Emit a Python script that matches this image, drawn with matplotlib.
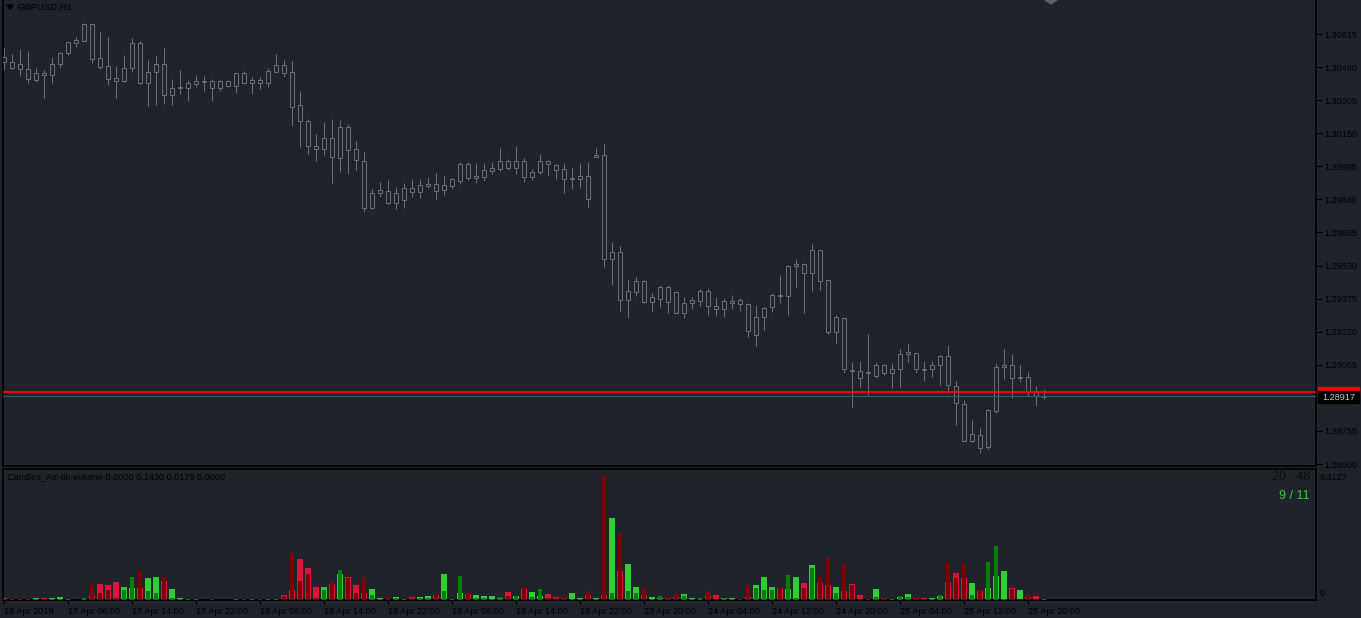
import matplotlib
matplotlib.use("Agg")
import matplotlib.pyplot as plt
from matplotlib.patches import Rectangle, Polygon
import numpy as np

# ---------------- data ----------------
opens = [1.30507,1.30484,1.30474,1.30451,1.30399,1.30432,1.30423,1.30474,1.30526,1.30573,
         1.30582,1.30662,1.30503,1.30465,1.30409,1.30395,1.30456,1.30573,1.30385,1.30437,
         1.30474,1.30329,1.30362,1.30362,1.30381,1.30395,1.30395,1.30362,1.30395,1.30371,
         1.30432,1.30385,1.30399,1.30385,1.30437,1.30470,1.30437,1.30282,1.30207,1.30090,
         1.30076,1.30128,1.30034,1.30179,1.30076,1.30020,1.29800,1.29870,1.29879,1.29823,
         1.29837,1.29893,1.29875,1.29903,1.29912,1.29884,1.29903,1.29926,1.30006,1.29940,
         1.29945,1.29973,1.29982,1.30020,1.29987,1.30020,1.29945,1.29968,1.30020,1.30001,
         1.29982,1.29936,1.29936,1.29950,1.30039,1.30048,1.29561,1.29594,1.29369,1.29406,
         1.29458,1.29359,1.29373,1.29430,1.29406,1.29308,1.29355,1.29364,1.29411,1.29341,
         1.29326,1.29355,1.29369,1.29350,1.29205,1.29289,1.29336,1.29392,1.29387,1.29528,
         1.29537,1.29495,1.29603,1.29462,1.29219,1.29284,1.29041,1.29036,1.29031,1.29013,
         1.29064,1.29027,1.29045,1.29116,1.29120,1.29045,1.29045,1.29064,1.29106,1.28966,
         1.28881,1.28708,1.28736,1.28680,1.28848,1.29055,1.29064,1.29003,1.29008,1.28942,
         1.28912]
highs = [1.30549,1.30521,1.30545,1.30535,1.30456,1.30446,1.30507,1.30531,1.30578,1.30601,
         1.30667,1.30662,1.30624,1.30601,1.30465,1.30517,1.30596,1.30582,1.30493,1.30512,
         1.30549,1.30404,1.30446,1.30399,1.30423,1.30418,1.30404,1.30399,1.30395,1.30432,
         1.30442,1.30414,1.30414,1.30456,1.30521,1.30493,1.30488,1.30348,1.30217,1.30146,
         1.30203,1.30217,1.30212,1.30193,1.30114,1.30062,1.29889,1.29922,1.29931,1.29898,
         1.29917,1.29936,1.29936,1.29945,1.29964,1.29950,1.29940,1.30015,1.30015,1.30011,
         1.30011,1.30015,1.30081,1.30029,1.30090,1.30034,1.29982,1.30053,1.30025,1.30006,
         1.30011,1.29987,1.30011,1.30015,1.30081,1.30100,1.29640,1.29622,1.29462,1.29476,
         1.29462,1.29401,1.29439,1.29439,1.29406,1.29383,1.29383,1.29420,1.29425,1.29383,
         1.29378,1.29392,1.29378,1.29355,1.29345,1.29336,1.29401,1.29486,1.29533,1.29561,
         1.29542,1.29631,1.29603,1.29462,1.29298,1.29284,1.29078,1.29083,1.29209,1.29078,
         1.29069,1.29073,1.29139,1.29162,1.29120,1.29083,1.29083,1.29111,1.29158,1.28989,
         1.28900,1.28806,1.28769,1.28858,1.29073,1.29139,1.29116,1.29064,1.29031,1.28966,
         1.28952]
lows  = [1.30446,1.30451,1.30418,1.30385,1.30390,1.30315,1.30385,1.30456,1.30517,1.30554,
         1.30582,1.30479,1.30451,1.30376,1.30315,1.30390,1.30437,1.30381,1.30278,1.30282,
         1.30287,1.30282,1.30334,1.30301,1.30367,1.30348,1.30301,1.30348,1.30367,1.30339,
         1.30385,1.30334,1.30357,1.30367,1.30437,1.30414,1.30184,1.30086,1.30053,1.30020,
         1.30048,1.29917,1.29968,1.29959,1.29978,1.29781,1.29795,1.29851,1.29818,1.29795,
         1.29800,1.29851,1.29847,1.29893,1.29842,1.29861,1.29889,1.29912,1.29931,1.29917,
         1.29926,1.29959,1.29973,1.29978,1.29959,1.29922,1.29931,1.29959,1.29954,1.29936,
         1.29870,1.29889,1.29893,1.29804,1.30039,1.29523,1.29439,1.29317,1.29284,1.29387,
         1.29355,1.29317,1.29336,1.29308,1.29317,1.29284,1.29326,1.29341,1.29298,1.29294,
         1.29289,1.29326,1.29317,1.29195,1.29153,1.29228,1.29312,1.29355,1.29298,1.29430,
         1.29308,1.29411,1.29415,1.29209,1.29167,1.29027,1.28867,1.28961,1.28924,1.29003,
         1.29017,1.28956,1.28961,1.29078,1.29027,1.28989,1.29008,1.28970,1.28933,1.28783,
         1.28708,1.28703,1.28652,1.28670,1.28839,1.28998,1.28909,1.28984,1.28919,1.28872,
         1.28905]
closes = [1.30484,1.30456,1.30451,1.30404,1.30432,1.30423,1.30474,1.30526,1.30578,1.30587,
          1.30662,1.30498,1.30460,1.30404,1.30395,1.30456,1.30573,1.30385,1.30437,1.30474,
          1.30329,1.30362,1.30367,1.30385,1.30395,1.30390,1.30362,1.30395,1.30371,1.30432,
          1.30385,1.30399,1.30385,1.30442,1.30470,1.30432,1.30273,1.30207,1.30090,1.30076,
          1.30128,1.30039,1.30179,1.30071,1.30025,1.29800,1.29870,1.29884,1.29823,1.29870,
          1.29893,1.29875,1.29908,1.29912,1.29879,1.29908,1.29936,1.30006,1.29940,1.29950,
          1.29978,1.29987,1.30020,1.29987,1.30020,1.29945,1.29968,1.30020,1.30006,1.29978,
          1.29936,1.29940,1.29950,1.29842,1.30048,1.29561,1.29594,1.29369,1.29411,1.29458,
          1.29359,1.29383,1.29430,1.29359,1.29308,1.29355,1.29369,1.29411,1.29341,1.29326,
          1.29364,1.29364,1.29350,1.29223,1.29289,1.29331,1.29392,1.29387,1.29528,1.29537,
          1.29495,1.29603,1.29458,1.29219,1.29289,1.29045,1.29036,1.29003,1.29027,1.29064,
          1.29027,1.29045,1.29116,1.29125,1.29045,1.29041,1.29064,1.29106,1.28970,1.28886,
          1.28708,1.28741,1.28675,1.28853,1.29055,1.29064,1.29003,1.29008,1.28942,1.28919,
          1.28917]

# volume indicator: wide bright bar and narrow dark bar per candle
vol_wide = [0.16,0.09,0.09,0.09,0.12,0.12,0.12,0.19,0.07,0.02,
            0.05,0.31,1.17,1.10,1.31,0.95,0.88,0.88,1.53,1.60,
            1.38,0.81,0.16,0.09,0.09,0.02,0.09,0.02,0.02,0.09,
            0.09,0.09,0.09,0.07,0.09,0.38,0.74,2.89,2.24,0.95,
            0.95,1.17,1.88,1.67,1.10,0.52,0.81,0.16,0.09,0.24,
            0.09,0.24,0.24,0.31,0.38,1.88,0.09,0.52,0.45,0.38,
            0.31,0.31,0.16,0.59,0.31,0.81,0.59,0.31,0.45,0.24,
            0.16,0.52,0.16,0.38,0.16,0.38,5.82,2.03,2.53,0.95,
            0.38,0.24,0.16,0.16,0.24,0.45,0.16,0.09,0.31,0.38,
            0.16,0.16,0.09,0.24,1.10,1.67,0.95,0.88,0.81,1.67,
            1.24,2.46,1.24,1.10,0.95,0.67,1.17,0.38,0.09,0.81,
            0.16,0.09,0.24,0.45,0.16,0.16,0.16,0.31,1.31,1.95,
            1.53,1.24,0.67,0.88,1.74,2.03,0.88,0.74,0.24,0.31,
            0.09]
vol_narrow = [0.07,0.05,0.05,0.05,0.07,0.07,0.07,0.09,0.05,0.02,
              0.16,1.15,0.52,0.69,0.16,0.74,1.60,2.10,0.67,0.52,
              1.67,0.16,0.05,0.05,0.05,0.02,0.05,0.02,0.02,0.05,
              0.05,0.05,0.05,0.05,0.05,0.31,3.32,1.38,1.88,0.16,
              0.74,1.31,2.10,1.53,0.52,1.67,0.38,0.07,0.24,0.16,
              0.05,0.12,0.16,0.12,0.38,0.67,0.05,1.74,0.52,0.12,
              0.16,0.09,0.24,0.31,0.31,0.95,0.24,0.81,0.16,0.16,
              0.31,0.09,0.07,0.67,0.07,8.83,0.52,4.68,0.67,0.52,
              0.88,0.09,0.31,0.24,0.45,0.31,0.07,0.16,0.67,0.09,
              0.16,0.07,0.05,1.10,0.88,0.74,0.74,0.88,1.81,0.16,
              0.88,2.31,1.67,2.96,0.52,2.53,1.10,0.09,0.05,0.24,
              0.16,0.05,0.31,0.20,0.31,0.10,0.09,0.38,2.67,1.53,
              2.60,0.38,0.81,2.67,3.82,0.09,0.81,0.02,0.45,0.09,
              0.05]

price_ticks = [1.28600,1.28755,1.29065,1.29220,1.29375,1.29530,1.29685,
               1.29840,1.29995,1.30150,1.30305,1.30460,1.30615]
time_tick_pos = [0,8,16,24,32,40,48,56,64,72,80,88,96,104,112,120,128]
time_tick_labels = ["16 Apr 2019","17 Apr 06:00","17 Apr 14:00","17 Apr 22:00",
                    "18 Apr 06:00","18 Apr 14:00","18 Apr 22:00","19 Apr 06:00",
                    "19 Apr 14:00","19 Apr 22:00","23 Apr 20:00","24 Apr 04:00",
                    "24 Apr 12:00","24 Apr 20:00","25 Apr 04:00","25 Apr 12:00",
                    "25 Apr 20:00"]
bid_price = 1.28917
line_price = 1.28937
vol_max = 9.3127

# ---------------- style ----------------
BG = "#1f242c"
CANDLE = "#6c6c6c"
FONT = "Liberation Sans"
W, H = 1361, 618
fig = plt.figure(figsize=(W/100, H/100), dpi=100)
fig.patch.set_facecolor(BG)

def fx(px): return px / W
def fy(py): return 1 - py / H

x_left, x_right = 3, 1316
ax = fig.add_axes([fx(x_left), fy(466), fx(x_right - x_left), fy(0) - fy(466)])
axv = fig.add_axes([fx(x_left), fy(600), fx(x_right - x_left), fy(469) - fy(600)])

n = len(opens)
xlim = (-0.125, -0.125 + (x_right - x_left) / 8.0)
px_per_y = 0.00004686
ylim = (1.30615 - (466 - 34) * px_per_y, 1.30615 + (34 - 0) * px_per_y)

for a in (ax, axv):
    a.set_facecolor(BG)
    a.set_xlim(*xlim)
    for s in a.spines.values():
        s.set_color("black")
        s.set_linewidth(1.2)
ax.spines["top"].set_visible(False)

ax.set_ylim(*ylim)
lw = 0.75
for i in range(n):
    ax.vlines(i, lows[i], highs[i], color=CANDLE, lw=lw, zorder=2)
    lo, hi = min(opens[i], closes[i]), max(opens[i], closes[i])
    hgt = max(hi - lo, 0.000001)
    ax.add_patch(Rectangle((i - 0.27, lo), 0.54, hgt, facecolor=BG,
                           edgecolor=CANDLE, lw=lw, zorder=3))

ax.axhline(line_price, color="#ff0000", lw=1.3, zorder=4)
ax.axhline(bid_price, color="#4a5058", lw=0.9, zorder=4)

ax.set_xticks([])
ax.yaxis.tick_right()
ax.set_yticks(price_ticks)
ax.set_yticklabels([f"{p:.5f}" for p in price_ticks], fontsize=6.6,
                   family=FONT, color="black")
ax.tick_params(axis="y", length=4, width=0.8, color="black", pad=2)

# volume panel
axv.set_ylim(0, vol_max)
xs = np.arange(n)
wide_col = ["#32cd32" if c >= o else "#dc143c" for o, c in zip(opens, closes)]
dark_col = ["#008000" if c >= o else "#800000" for o, c in zip(opens, closes)]
axv.bar(xs, vol_wide, width=0.82, color=wide_col, zorder=2)
axv.bar(xs, vol_narrow, width=0.38, color=dark_col, zorder=3)
axv.set_yticks([])
axv.set_xticks(time_tick_pos)
axv.set_xticklabels(time_tick_labels, fontsize=6.6, family=FONT,
                    color="black", ha="left")
axv.tick_params(axis="x", length=3, width=0.8, color="black", pad=2)

# labels / texts
fig.text(fx(18), fy(7), "GBPUSD,H1", fontsize=6.8, family=FONT, color="black",
         va="center", ha="left")
fig.patches.append(Polygon([[fx(7), fy(5)], [fx(13), fy(5)], [fx(10), fy(9)]],
                           closed=True, color="black", transform=fig.transFigure))
fig.text(fx(7), fy(477), "Candles_Atr-tik-volume 0.0000 0.1430 0.0179 0.0000",
         fontsize=6.6, family=FONT, color="black", va="center", ha="left")
fig.text(fx(1310), fy(477), "20 : 48", fontsize=9, family=FONT, color="#0d0d0d",
         va="center", ha="right")
fig.text(fx(1310), fy(496), "9 / 11", fontsize=9, family=FONT, color="#32cd32",
         va="center", ha="right")
fig.text(fx(1320), fy(477), "9.3127", fontsize=6.6, family=FONT, color="black",
         va="center", ha="left")
fig.text(fx(1320), fy(593), "0", fontsize=6.6, family=FONT, color="black",
         va="center", ha="left")

# price labels on axis
fig.patches.append(Rectangle((fx(1318), fy(396)), fx(41), fy(387) - fy(396),
                             color="#ff0000", transform=fig.transFigure))
fig.patches.append(Rectangle((fx(1318), fy(403)), fx(41), fy(391) - fy(403),
                             color="black", transform=fig.transFigure))
fig.text(fx(1322), fy(397), f"{bid_price:.5f}", fontsize=6.6, family=FONT,
         color="#c8c8c8", va="center", ha="left")

# chart shift marker
fig.patches.append(Polygon([[fx(1045), fy(0)], [fx(1057), fy(0)], [fx(1051), fy(4)]],
                           closed=True, color="#5a5f66", transform=fig.transFigure))

fig.savefig("out.png", dpi=100, facecolor=BG)
